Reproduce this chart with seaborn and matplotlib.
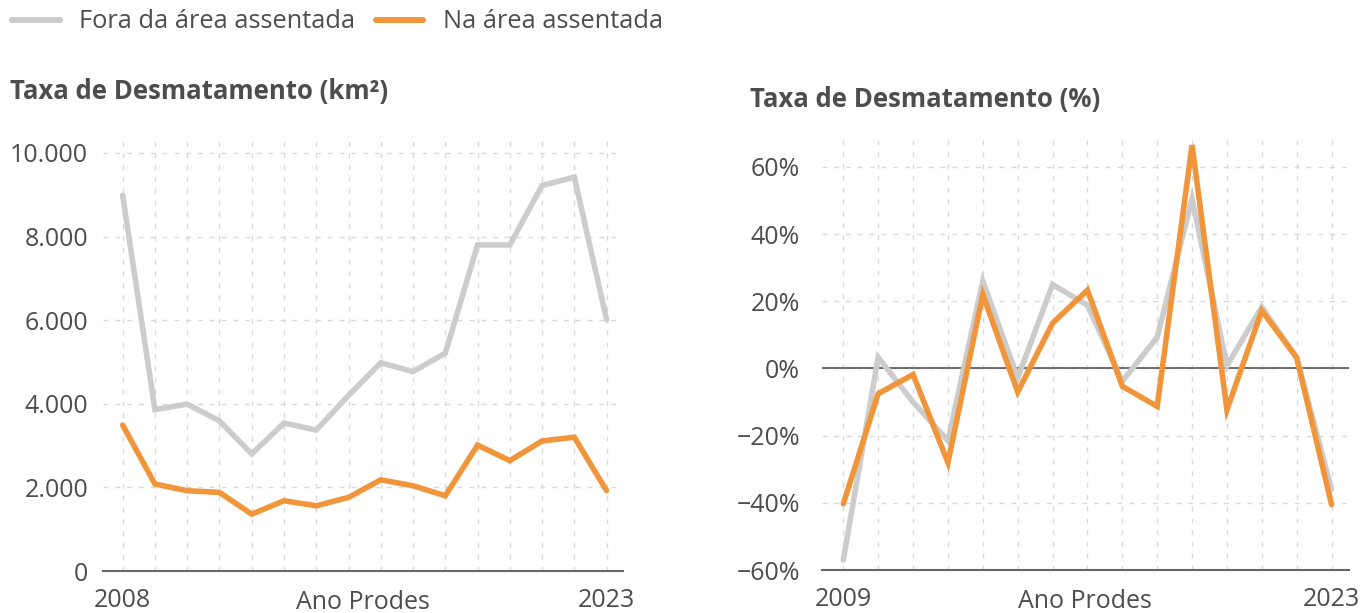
import matplotlib.pyplot as plt
import pandas as pd
import seaborn as sns
from matplotlib.lines import Line2D
from matplotlib.ticker import FuncFormatter

# dados
anos_km2 = list(range(2008, 2024))
fora_km2 = [8980, 3860, 3990, 3590, 2800, 3540, 3370, 4200, 4980, 4770, 5210, 7800, 7800, 9220, 9420, 6010]
na_km2 = [3490, 2080, 1920, 1880, 1360, 1680, 1560, 1760, 2180, 2040, 1800, 3010, 2640, 3110, 3200, 1920]

anos_pct = list(range(2009, 2024))
fora_pct = [-57, 3.3, -10, -21.5, 26, -2.8, 25, 18.8, -3.8, 9.3, 50.5, 0.8, 18.3, 3.2, -36]
na_pct = [-40.3, -7.5, -1.8, -28, 22, -7, 13.5, 23.3, -5.3, -11.3, 66.5, -12.3, 17.2, 3.2, -40.5]

series = ["Fora da área assentada", "Na área assentada"]
CINZA = "#cccccc"
LARANJA = "#f0953a"
TEXTO = "#4d4d4d"
GRADE = "#d9d9d9"

sns.set_style("white")
plt.rcParams["font.family"] = ["Open Sans", "DejaVu Sans"]


def long_df(anos, fora, na):
    df = pd.DataFrame({"Ano": anos, series[0]: fora, series[1]: na})
    return df.melt(id_vars="Ano", var_name="area", value_name="valor")


def style_axes(ax, anos):
    ax.set_xticks(anos)
    ax.set_xticklabels([str(a) if a in (anos[0], anos[-1]) else "" for a in anos])
    ax.grid(True, ls=(0, (3.5, 5)), color=GRADE, lw=1)
    for s in ["top", "right", "left"]:
        ax.spines[s].set_visible(False)
    ax.spines["bottom"].set_color("#666666")
    ax.spines["bottom"].set_linewidth(1.5)
    ax.tick_params(length=0, labelsize=18, labelcolor=TEXTO)
    ax.tick_params(axis="x", pad=12.5)
    ax.set_xlabel("Ano Prodes", fontsize=18, color=TEXTO)
    ax.xaxis.set_label_coords(0.5, -0.044)
    ax.set_ylabel("")
    ax.set_xlim(anos[0] - 0.62, anos[-1] + 0.5)


fig = plt.figure(figsize=(13.6, 6.13), dpi=100)
ax1 = fig.add_axes([0.0755, 0.0685, 0.3824, 0.708])
ax2 = fig.add_axes([0.6042, 0.0701, 0.3877, 0.7042])

pal = {series[0]: CINZA, series[1]: LARANJA}

sns.lineplot(data=long_df(anos_km2, fora_km2, na_km2), x="Ano", y="valor", hue="area",
             palette=pal, linewidth=4, legend=False, ax=ax1, solid_joinstyle="miter")
style_axes(ax1, anos_km2)
ax1.set_ylim(0, 10380)
ax1.set_yticks([0, 2000, 4000, 6000, 8000, 10000])
ax1.yaxis.set_major_formatter(FuncFormatter(lambda v, p: f"{int(v):,}".replace(",", ".")))
ax1.tick_params(axis="y", pad=10.5)

sns.lineplot(data=long_df(anos_pct, fora_pct, na_pct), x="Ano", y="valor", hue="area",
             palette=pal, linewidth=4, legend=False, ax=ax2, solid_joinstyle="miter")
style_axes(ax2, anos_pct)
ax2.set_ylim(-60, 68.5)
ax2.set_yticks([-60, -40, -20, 0, 20, 40, 60])
ax2.yaxis.set_major_formatter(FuncFormatter(lambda v, p: f"{int(v)}%".replace("-", "\u2212")))
ax2.axhline(0, color="#555555", lw=1.2, zorder=1)
ax2.tick_params(axis="y", pad=15.5)

fig.text(10 / 1360, 1 - 92 / 613, "Taxa de Desmatamento (km²)", fontsize=18.5, fontweight="bold",
         color=TEXTO, va="center", ha="left")
fig.text(750 / 1360, 1 - 99 / 613, "Taxa de Desmatamento (%)", fontsize=18.5, fontweight="bold",
         color=TEXTO, va="center", ha="left")

handles = [Line2D([], [], color=CINZA, lw=4.3), Line2D([], [], color=LARANJA, lw=4.3)]
fig.legend(handles, series, loc="center left", bbox_to_anchor=(12 / 1360, 1 - 22 / 613),
           frameon=False, ncol=2, fontsize=18.3, handlelength=1.87, handletextpad=0.78,
           columnspacing=0.8, borderpad=0, borderaxespad=0, labelcolor=TEXTO)

fig.savefig("out.png", dpi=100)
